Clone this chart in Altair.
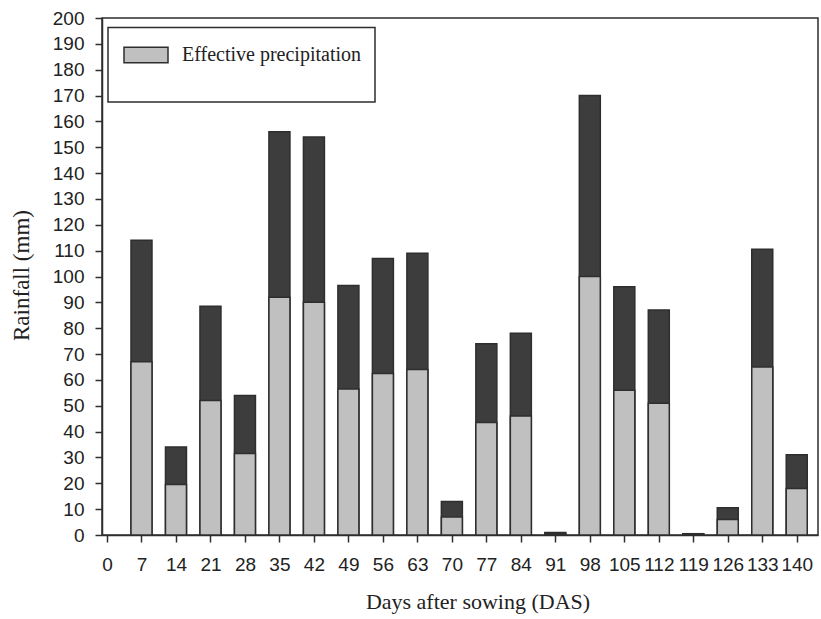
import altair as alt
import pandas as pd

days = [7, 14, 21, 28, 35, 42, 49, 56, 63, 70, 77, 84, 91, 98, 105, 112, 119, 126, 133, 140]
total = [114, 34, 88.5, 54, 156, 154, 96.5, 107, 109, 13, 74, 78, 1, 170, 96, 87, 0.5, 10.5, 110.5, 31]
effective = [67, 19.5, 52, 31.5, 92, 90, 56.5, 62.5, 64, 7, 43.5, 46, 0.5, 100, 56, 51, 0.3, 6, 65, 18]
x_ticks = list(range(0, 141, 7))
y_ticks = list(range(0, 201, 10))
legend_label = "Effective precipitation"

df = pd.DataFrame({
    "day": days,
    "total": total,
    "effective": effective,
    "series": [legend_label] * len(days),
})

DARK = "#3d3d3d"
LIGHT = "#c0c0c0"
EDGE = "#2e2e2e"
TXT = "#222222"

x_scale = alt.Scale(domain=[0, 143.3], nice=False, zero=False)
y_scale = alt.Scale(domain=[0, 200], nice=False)


def x_axis():
    return alt.Axis(
        values=x_ticks, title="Days after sowing (DAS)", grid=False,
        tickSize=7, labelPadding=13, labelFontSize=19, labelFont="Liberation Sans",
        labelColor=TXT, labelFlush=False, labelOverlap=False,
        titleFont="Liberation Serif", titleFontSize=22, titleFontWeight="normal",
        titleColor=TXT, titleX=375.5, titleY=73.5, titleBaseline="alphabetic",
    )


def y_axis():
    return alt.Axis(
        values=y_ticks, title="Rainfall (mm)", grid=False,
        tickSize=7, labelPadding=11, labelFontSize=19, labelFont="Liberation Sans",
        labelColor=TXT, labelFlush=False, labelOverlap=False,
        titleFont="Liberation Serif", titleFontSize=23, titleFontWeight="normal",
        titleColor=TXT, titleX=-74, titleY=257, titleBaseline="alphabetic",
    )


box = alt.Chart(alt.Data(values=[{"k": 1}])).mark_rect(
    fill="white", stroke=EDGE, strokeWidth=1.5
).encode(
    x=alt.value(6), x2=alt.value(273), y=alt.value(9.5), y2=alt.value(84)
)

total_bars = alt.Chart(df).mark_bar(
    size=21, color=DARK, stroke=EDGE, strokeWidth=1.5
).encode(
    x=alt.X("day:Q", scale=x_scale, axis=x_axis()),
    y=alt.Y("total:Q", scale=y_scale, axis=y_axis()),
)

eff_bars = alt.Chart(df).mark_bar(
    size=21, stroke=EDGE, strokeWidth=1.5
).encode(
    x=alt.X("day:Q", scale=x_scale, axis=x_axis()),
    y=alt.Y("effective:Q", scale=y_scale, axis=y_axis()),
    color=alt.Color(
        "series:N",
        scale=alt.Scale(domain=[legend_label], range=[LIGHT]),
        legend=alt.Legend(
            title=None, orient="none", legendX=21, legendY=14, padding=0,
            symbolType="M-1,-0.35L1,-0.35L1,0.35L-1,0.35Z", symbolSize=1936,
            symbolStrokeColor=EDGE, symbolStrokeWidth=1.5, symbolFillColor=LIGHT,
            labelFont="Liberation Serif", labelFontSize=20, labelColor=TXT,
            labelOffset=13, labelLimit=400,
        ),
    ),
)

chart = alt.layer(box, total_bars, eff_bars).properties(
    width=716, height=517,
    autosize=alt.AutoSizeParams(type="none"),
    padding={"left": 102, "top": 18, "right": 3, "bottom": 84},
).configure_view(
    stroke=EDGE, strokeWidth=1.5
).configure_axis(
    domainColor=EDGE, domainWidth=1.5, tickColor=EDGE, tickWidth=1.5
)

chart.save("out.html", embed_options={"renderer": "svg", "actions": False})
